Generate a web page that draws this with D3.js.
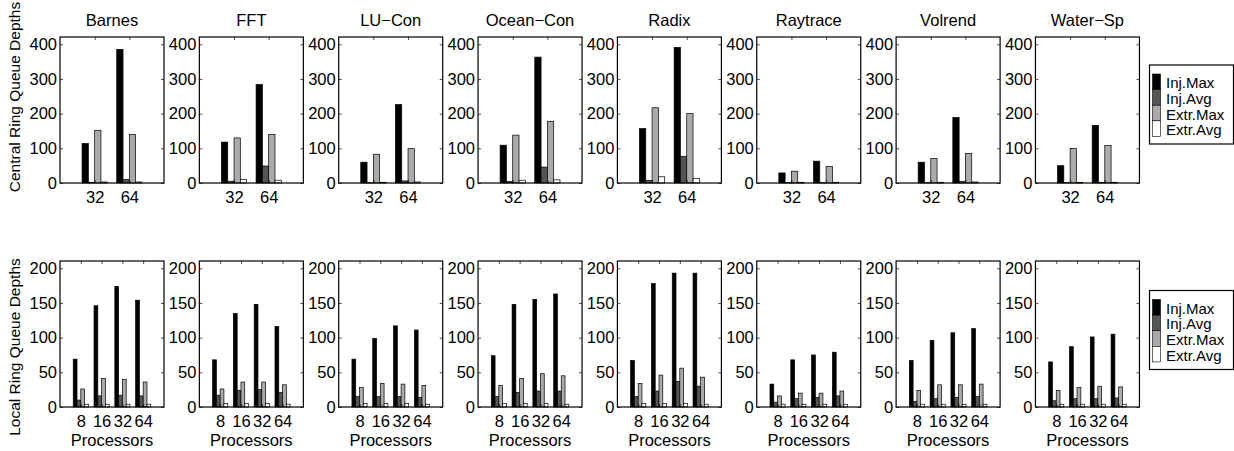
<!DOCTYPE html>
<html><head><meta charset="utf-8">
<script src="https://cdn.jsdelivr.net/npm/d3@7"></script>
<style>
html,body{margin:0;padding:0;background:#fff;}
svg{display:block;font-family:"Liberation Sans",Arial,Helvetica,sans-serif;}
</style></head>
<body><svg id="c" width="1234" height="451"></svg>
<script>
// ---------- data ----------
const benchmarks = ["Barnes","FFT","LU\u2212Con","Ocean\u2212Con","Radix","Raytrace","Volrend","Water\u2212Sp"];
const seriesNames = ["Inj.Max","Inj.Avg","Extr.Max","Extr.Avg"];
const seriesColors = ["#000000","#555555","#aaaaaa","#ffffff"];
const centralProcs = ["32","64"];
const localProcs = ["8","16","32","64"];
const centralTicks = [0,100,200,300,400];
const localTicks = [0,50,100,150,200];

// central ring (per benchmark: [32, 64])
const centralInjMax  = [[114,385],[118,284],[60,226],[109,363],[157,391],[29,63],[60,189],[50,166]];
const centralInjAvg  = [[2,10],[5,49],[1,6],[4,46],[7,77],[1,1],[1,5],[1,2]];
const centralExtrMax = [[152,140],[130,140],[83,99],[138,178],[217,200],[34,48],[71,85],[100,108]];
const centralExtrAvg = [[3,3],[10,8],[2,3],[8,9],[18,13],[2,2],[2,3],[2,2]];

// local ring (per benchmark: [8, 16, 32, 64])
const localInjMax  = [[69,146,174,154],[68,135,148,116],[69,99,117,111],[74,148,155,163],[67,178,193,193],[33,68,75,79],[67,96,107,113],[65,87,101,105]];
const localInjAvg  = [[10,16,17,16],[17,24,25,21],[15,15,15,14],[15,21,23,23],[15,23,37,30],[7,12,14,16],[8,12,14,15],[9,12,12,13]];
const localExtrMax = [[26,41,40,36],[26,36,36,32],[28,34,33,31],[31,41,48,45],[34,46,56,43],[16,20,20,23],[24,32,32,33],[24,28,30,29]];
const localExtrAvg = [[4,4,4,4],[5,5,5,4],[5,5,5,4],[5,5,5,4],[5,5,5,4],[4,4,4,4],[4,4,4,4],[4,4,4,4]];

// ---------- layout ----------
const svg = d3.select("#c");
const panelLeft0 = 60, panelStep = 139.35, panelW = 104;
const rows = [
  {top:37, bottom:183, ymax:421, ticks:centralTicks, procs:centralProcs,
   series:[centralInjMax,centralInjAvg,centralExtrMax,centralExtrAvg],
   ylabel:"Central Ring Queue Depths", ylabelY:97, xlabel:null, legendY:65},
  {top:261, bottom:407, ymax:210.5, ticks:localTicks, procs:localProcs,
   series:[localInjMax,localInjAvg,localExtrMax,localExtrAvg],
   ylabel:"Local Ring Queue Depths", ylabelY:347, xlabel:"Processors", legendY:290.5}
];
const fs = 16.5;
const nS = seriesNames.length;
const groupW = Math.min(0.8, nS/(nS+1.5));
const slot = groupW/nS;

rows.forEach(row => {
  const nG = row.procs.length;
  const y = d3.scaleLinear().domain([0,row.ymax]).range([row.bottom,row.top]);
  benchmarks.forEach((b,bi) => {
    const left = panelLeft0 + bi*panelStep;
    const x = d3.scaleLinear().domain([0,nG+1]).range([left,left+panelW]);
    const g = svg.append("g");
    // bars
    row.series.forEach((ser,si) => {
      const vals = ser[bi];
      g.selectAll(null).data(vals).enter().append("rect")
        .attr("x",(d,i)=> x(i+1 - groupW/2 + si*slot))
        .attr("width", x(slot)-x(0))
        .attr("y", d=>y(d))
        .attr("height", d=>y(0)-y(d))
        .attr("fill", seriesColors[si])
        .attr("stroke","#000").attr("stroke-width",0.7);
    });
    // axes
    const gl = g.append("g").attr("transform",`translate(${left},0)`)
      .call(d3.axisLeft(y).tickValues(row.ticks).tickSize(-3).tickPadding(3));
    const gr = g.append("g").attr("transform",`translate(${left+panelW},0)`)
      .call(d3.axisRight(y).tickValues(row.ticks).tickSize(-3).tickFormat(""));
    const gt = g.append("g").attr("transform",`translate(0,${row.top})`)
      .call(d3.axisTop(x).tickValues(d3.range(1,nG+1)).tickSize(-3).tickFormat(""));
    const gb = g.append("g").attr("transform",`translate(0,${row.bottom})`)
      .call(d3.axisBottom(x).tickValues(d3.range(1,nG+1)).tickSize(-3).tickPadding(8)
        .tickFormat(d=>row.procs[d-1]));
    [gl,gr,gt,gb].forEach(a=>{
      a.select(".domain").remove();
      a.selectAll("line").attr("stroke","#000").attr("stroke-width",0.7);
      a.selectAll("text").attr("font-size",fs).attr("fill","#000")
        .attr("font-family",'"Liberation Sans",Arial,sans-serif');
    });
    // frame
    g.append("rect").attr("x",left).attr("y",row.top)
      .attr("width",panelW).attr("height",row.bottom-row.top)
      .attr("fill","none").attr("stroke","#000").attr("stroke-width",1.2);
    // title
    if (row === rows[0]) {
      g.append("text").attr("x",left+panelW/2).attr("y",26)
        .attr("text-anchor","middle").attr("font-size",fs).text(b);
    }
    if (row.xlabel) {
      g.append("text").attr("x",left+panelW/2).attr("y",446)
        .attr("text-anchor","middle").attr("font-size",fs).text(row.xlabel);
    }
  });
  // y label
  svg.append("text").attr("transform",`translate(20,${row.ylabelY}) rotate(-90)`)
    .attr("text-anchor","middle").attr("font-size",15.5).text(row.ylabel);
  // legend
  const lx = 1149.5, ly = row.legendY, lh = 15.6;
  const lg = svg.append("g");
  lg.append("rect").attr("x",lx).attr("y",ly).attr("width",84).attr("height",79)
    .attr("fill","#fff").attr("stroke","#000").attr("stroke-width",1.2);
  seriesNames.forEach((s,si)=>{
    lg.append("rect").attr("x",lx+3).attr("y",ly+9+si*lh).attr("width",8).attr("height",lh)
      .attr("fill",seriesColors[si]).attr("stroke","#000").attr("stroke-width",0.6);
    lg.append("text").attr("x",lx+16.5).attr("y",ly+9+si*lh+lh/2+1)
      .attr("dominant-baseline","central").attr("font-size",15).text(s);
  });
});
</script></body></html>
